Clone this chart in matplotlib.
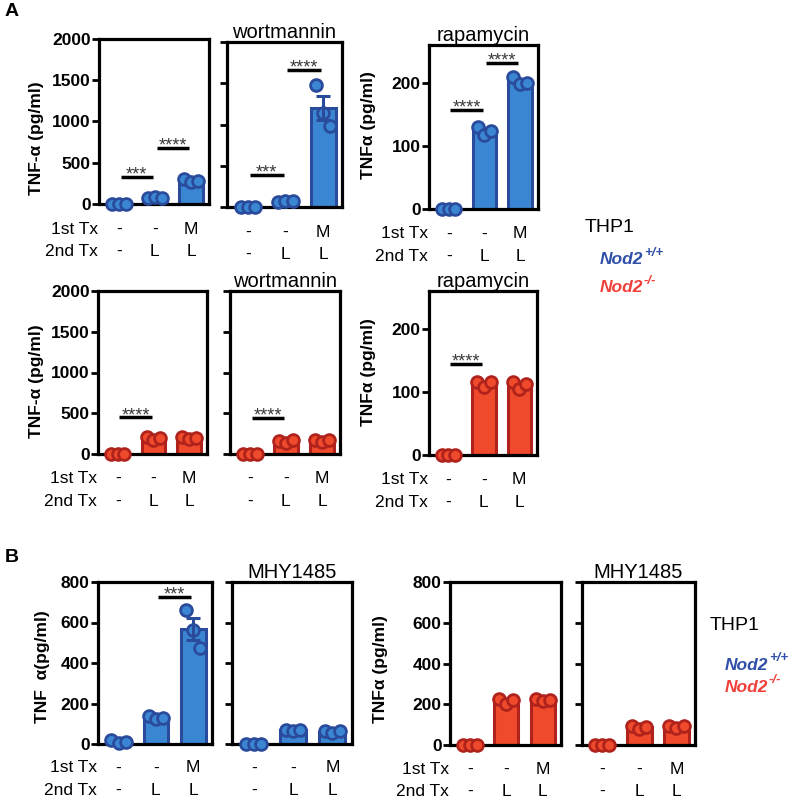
import matplotlib.pyplot as plt
import matplotlib.transforms as mtransforms
import numpy as np

plt.rcParams['font.family'] = ['Liberation Sans', 'DejaVu Sans']

W, H = 792, 802

# treatment rows printed under every panel
first_tx = ['-', '-', 'M']
second_tx = ['-', 'L', 'L']

# TNF-a replicates (pg/ml), three wells per group
a_ctrl_wt = [[0, 0, 0], [70, 80, 75], [305, 265, 280]]
a_wort_wt = [[0, 0, 0], [65, 75, 70], [1480, 1140, 980]]
a_rapa_wt = [[0, 0, 0], [130, 118, 123], [210, 198, 200]]

a_ctrl_ko = [[0, 0, 0], [210, 175, 200], [205, 185, 200]]
a_wort_ko = [[0, 0, 0], [165, 140, 170], [170, 150, 175]]
a_rapa_ko = [[0, 0, 0], [115, 108, 115], [115, 105, 113]]

b_ctrl_wt = [[20, 5, 10], [140, 125, 130], [660, 565, 475]]
b_mhy_wt = [[0, 0, 0], [70, 65, 68], [65, 55, 62]]
b_ctrl_ko = [[0, 0, 0], [225, 200, 220], [225, 215, 222]]
b_mhy_ko = [[0, 0, 0], [95, 80, 90], [95, 85, 92]]

BLUE, BLUE_EDGE = '#3b86d2', '#2a4b9c'
RED, RED_EDGE = '#ef4a2b', '#b0221c'

fig = plt.figure(figsize=(W / 100, H / 100), dpi=100)


def add_ax(x0, y0, x1, y1):
    return fig.add_axes([x0 / W, 1 - y1 / H, (x1 - x0) / W, (y1 - y0) / H])


def panel(ax, reps, ymax, yticks, fc, ec, title=None, ticklabels=True,
          row_labels=True, row_y=(-0.152, -0.29)):
    reps = np.array(reps, float)
    x = np.arange(len(reps))
    means = reps.mean(axis=1)
    sem = reps.std(axis=1, ddof=1) / np.sqrt(reps.shape[1])
    ax.bar(x, means, width=0.66, color=fc, edgecolor=ec, linewidth=2.2, zorder=2)
    offs = np.array([-0.19, 0.0, 0.19])
    for xi, r in zip(x, reps):
        ax.plot(xi + offs, r, 'o', ms=8.5, mfc=fc, mec=ec, mew=2,
                clip_on=False, zorder=4)
    big = sem > 20
    ax.errorbar(x[big], means[big], yerr=sem[big], fmt='none', ecolor=ec,
                elinewidth=2.2, capsize=5, capthick=2.2, zorder=5)

    ax.set_xlim(-0.55, 2.5)
    ax.set_ylim(0, ymax)
    ax.set_xticks([])
    ax.set_yticks(yticks)
    for s in ax.spines.values():
        s.set_linewidth(2.3)
    ax.tick_params(axis='y', length=5, width=2, pad=1, labelsize=12.5,
                   labelleft=ticklabels)
    if ticklabels:
        for lab in ax.get_yticklabels():
            lab.set_fontweight('bold')
    if title:
        ax.set_title(title, fontsize=14.5, pad=2)

    trans = mtransforms.blended_transform_factory(ax.transData, ax.transAxes)
    for i in x:
        ax.text(i, row_y[0], first_tx[i], transform=trans, ha='center',
                va='center', fontsize=12.5)
        ax.text(i, row_y[1], second_tx[i], transform=trans, ha='center',
                va='center', fontsize=12.5)
    if row_labels:
        ax.text(-0.01, row_y[0], '1st Tx', transform=ax.transAxes, ha='right',
                va='center', fontsize=12.5)
        ax.text(-0.01, row_y[1], '2nd Tx', transform=ax.transAxes, ha='right',
                va='center', fontsize=12.5)


def sig(ax, i, j, y, label):
    ax.plot([i + 0.05, j - 0.05], [y, y], color='black', lw=2.5,
            solid_capstyle='butt', zorder=3)
    ax.annotate(label, ((i + j) / 2, y), xytext=(0, -2),
                textcoords='offset points', ha='center', va='baseline',
                fontsize=13, color='#3a3a3a')


ylab = dict(fontsize=12.5, fontweight='bold', rotation=90, ha='center', va='center')
yA = [0, 500, 1000, 1500, 2000]
yR = [0, 100, 200]
yB = [0, 200, 400, 600, 800]

# ---- A, Nod2+/+ ----
ax = add_ax(99, 39, 209, 204)
panel(ax, a_ctrl_wt, 2000, yA, BLUE, BLUE_EDGE)
sig(ax, 0, 1, 327, '***')
sig(ax, 1, 2, 680, '****')
fig.text(37 / W, 1 - 138 / H, 'TNF-α (pg/ml)', **ylab)

ax = add_ax(227, 42, 342, 207)
panel(ax, a_wort_wt, 2000, yA, BLUE, BLUE_EDGE, title='wortmannin',
      ticklabels=False, row_labels=False)
sig(ax, 0, 1, 388, '***')
sig(ax, 1, 2, 1660, '****')

ax = add_ax(429, 45, 538, 209)
panel(ax, a_rapa_wt, 260, yR, BLUE, BLUE_EDGE, title='rapamycin')
sig(ax, 0, 1, 157, '****')
sig(ax, 1, 2, 232, '****')
fig.text(368 / W, 1 - 125 / H, 'TNFα (pg/ml)', **ylab)

# ---- A, Nod2-/- ----
ax = add_ax(98, 291, 207, 454)
panel(ax, a_ctrl_ko, 2000, yA, RED, RED_EDGE)
sig(ax, 0, 1, 451, '****')
fig.text(37 / W, 1 - 381 / H, 'TNF-α (pg/ml)', **ylab)

ax = add_ax(230, 291, 340, 454)
panel(ax, a_wort_ko, 2000, yA, RED, RED_EDGE, title='wortmannin',
      ticklabels=False, row_labels=False)
sig(ax, 0, 1, 440, '****')

ax = add_ax(429, 291, 537, 455)
panel(ax, a_rapa_ko, 260, yR, RED, RED_EDGE, title='rapamycin')
sig(ax, 0, 1, 144, '****')
fig.text(368 / W, 1 - 372 / H, 'TNFα (pg/ml)', **ylab)

# ---- B ----
rowB = (-0.148, -0.284)
ax = add_ax(98, 582, 212, 744)
panel(ax, b_ctrl_wt, 800, yB, BLUE, BLUE_EDGE, row_y=rowB)
sig(ax, 1, 2, 726, '***')
fig.text(43 / W, 1 - 667 / H, 'TNF  α(pg/ml)', **ylab)

ax = add_ax(232, 582, 352, 744)
panel(ax, b_mhy_wt, 800, yB, BLUE, BLUE_EDGE, title='MHY1485',
      ticklabels=False, row_labels=False, row_y=rowB)

ax = add_ax(450, 582, 561, 745)
panel(ax, b_ctrl_ko, 800, yB, RED, RED_EDGE, row_y=rowB)
fig.text(380 / W, 1 - 669 / H, 'TNFα (pg/ml)', **ylab)

ax = add_ax(582, 582, 695, 745)
panel(ax, b_mhy_ko, 800, yB, RED, RED_EDGE, title='MHY1485',
      ticklabels=False, row_labels=False, row_y=rowB)

# THP1 genotype key, drawn twice
for x, yt, y1, y2 in [(585, 228, 260, 288), (710, 626, 665, 687)]:
    fig.text(x / W, 1 - yt / H, 'THP1', fontsize=14, ha='left', va='center')
    for yy, sup, col in [(y1, '+/+', '#2f4fa8'), (y2, '-/-', '#f0403a')]:
        fig.text((x + 15) / W, 1 - yy / H, 'Nod2', fontsize=12.5,
                 fontweight='bold', style='italic', color=col,
                 ha='left', va='center')
        fig.text((x + 59) / W, 1 - (yy - 1) / H, sup, fontsize=9.5,
                 fontweight='bold', style='italic', color=col,
                 ha='left', va='bottom')

fig.text(5 / W, 1 - 12 / H, 'A', fontsize=14, fontweight='bold', va='center')
fig.text(5 / W, 1 - 557 / H, 'B', fontsize=14, fontweight='bold', va='center')

fig.savefig('out.png', dpi=100)
